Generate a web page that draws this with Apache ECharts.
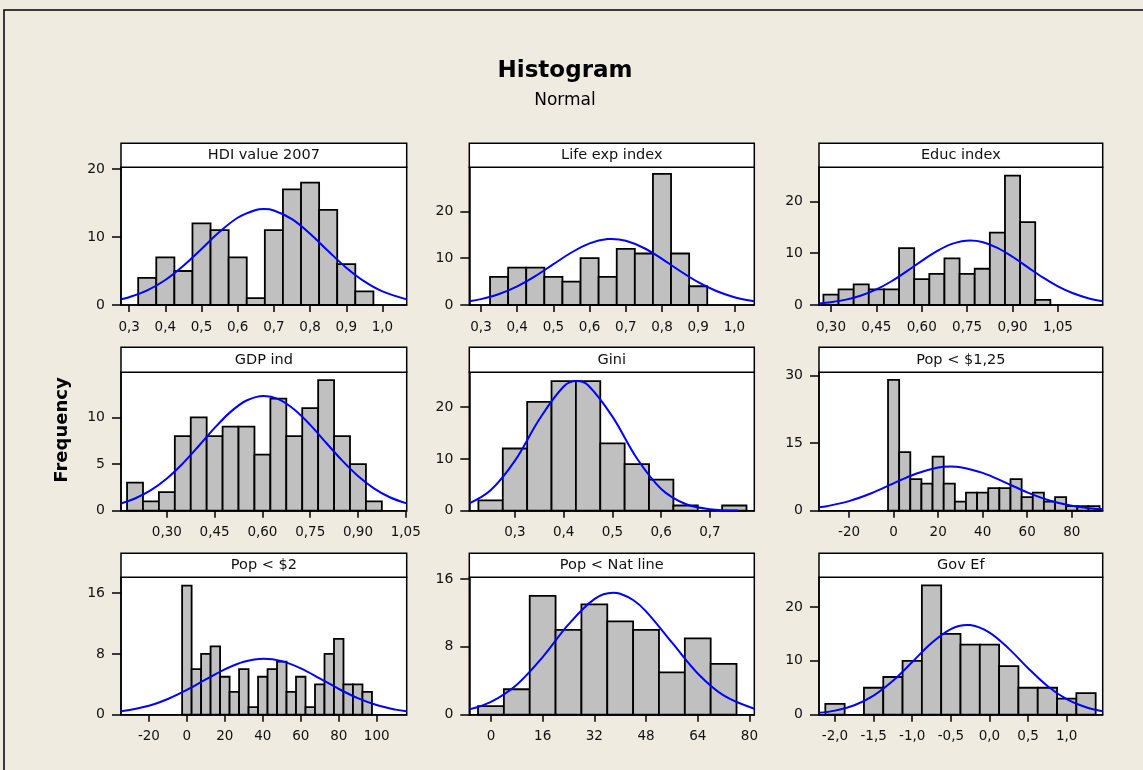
<!DOCTYPE html>
<html>
<head>
<meta charset="utf-8">
<script src="https://cdn.jsdelivr.net/npm/echarts@6/dist/echarts.min.js"></script>
<style>
html,body{margin:0;padding:0;background:#EFEBE1;}
#chart{width:1143px;height:770px;}
</style>
</head>
<body>
<div id="chart"></div>
<script>
// ---------- DATA ----------
const panelTitles = ["HDI value 2007", "Life exp index", "Educ index", "GDP ind", "Gini", "Pop < $1,25", "Pop < $2", "Pop < Nat line", "Gov Ef"];

// HDI value 2007
const hdiMid   = [0.35,0.40,0.45,0.50,0.55,0.60,0.65,0.70,0.75,0.80,0.85,0.90,0.95];
const hdiCount = [4,7,5,12,11,7,1,11,17,18,14,6,2];
const hdiCurveX = [0.2775,0.30,0.35,0.40,0.45,0.50,0.55,0.60,0.65,0.672,0.70,0.75,0.80,0.85,0.90,0.95,1.00,1.067];
const hdiCurveY = [0.84,1.15,2.15,3.68,5.77,8.24,10.76,12.83,13.98,14.1,13.9,12.62,10.48,7.93,5.49,3.47,2.00,0.83];
const hdiXTicks = [0.3,0.4,0.5,0.6,0.7,0.8,0.9,1.0];
const hdiYTicks = [0,10,20];

// Life exp index
const lifeMid   = [0.35,0.40,0.45,0.50,0.55,0.60,0.65,0.70,0.75,0.80,0.85,0.90];
const lifeCount = [6,8,8,6,5,10,6,12,11,28,11,4];
const lifeCurveX = [0.2677,0.30,0.35,0.40,0.45,0.50,0.55,0.60,0.65,0.661,0.70,0.75,0.80,0.85,0.90,0.95,1.00,1.055];
const lifeCurveY = [0.80,1.25,2.34,3.98,6.16,8.71,11.21,13.16,14.07,14.1,13.71,12.17,9.85,7.26,4.87,2.98,1.67,0.79];
const lifeXTicks = [0.3,0.4,0.5,0.6,0.7,0.8,0.9,1.0];
const lifeYTicks = [0,10,20];

// Educ index
const educMid   = [0.30,0.35,0.40,0.45,0.50,0.55,0.60,0.65,0.70,0.75,0.80,0.85,0.90,0.95,1.00];
const educCount = [2,3,4,3,3,11,5,6,9,6,7,14,25,16,1];
const educCurveX = [0.2604,0.30,0.35,0.40,0.45,0.50,0.55,0.60,0.65,0.70,0.76,0.80,0.85,0.90,0.95,1.00,1.05,1.10,1.15,1.198];
const educCurveY = [0.31,0.55,1.04,1.84,3.01,4.59,6.49,8.53,10.41,11.81,12.45,12.16,11.05,9.32,7.31,5.32,3.60,2.26,1.32,0.73];
const educXTicks = [0.30,0.45,0.60,0.75,0.90,1.05];
const educYTicks = [0,10,20];

// GDP ind
const gdpMid   = [0.20,0.25,0.30,0.35,0.40,0.45,0.50,0.55,0.60,0.65,0.70,0.75,0.80,0.85,0.90,0.95];
const gdpCount = [3,1,2,8,10,8,9,9,6,12,8,11,14,8,5,1];
const gdpCurveX = [0.156,0.20,0.25,0.30,0.35,0.40,0.45,0.50,0.55,0.6045,0.65,0.70,0.75,0.80,0.85,0.90,0.95,1.00,1.053];
const gdpCurveY = [0.78,1.31,2.20,3.45,5.06,6.93,8.87,10.59,11.81,12.3,11.96,10.85,9.20,7.28,5.39,3.72,2.40,1.44,0.78];
const gdpXTicks = [0.30,0.45,0.60,0.75,0.90,1.05];
const gdpYTicks = [0,5,10];

// Gini
const giniMid   = [0.25,0.30,0.35,0.40,0.45,0.50,0.55,0.60,0.65,0.70,0.75];
const giniCount = [2,12,21,25,25,13,9,6,1,0,1];
const giniCurveX = [0.2063,0.25,0.30,0.35,0.40,0.4266,0.45,0.50,0.55,0.60,0.65,0.70,0.757];
const giniCurveY = [1.40,3.93,9.66,17.65,23.97,25.0,24.2,18.15,10.12,4.20,1.29,0.30,0.04];
const giniXTicks = [0.3,0.4,0.5,0.6,0.7];
const giniYTicks = [0,10,20];

// Pop < $1,25
const p125Mid   = [0,5,10,15,20,25,30,35,40,45,50,55,60,65,70,75,80,85,90];
const p125Count = [29,13,7,6,12,6,2,4,4,5,5,7,3,4,2,3,1,1,1];
const p125CurveX = [-33.5,-30,-20,-10,0,10,20,25.5,30,40,50,60,70,80,90,93.9];
const p125CurveY = [0.75,1.00,2.12,3.86,6.06,8.20,9.58,9.8,9.65,8.39,6.29,4.07,2.27,1.09,0.45,0.31];
const p125XTicks = [-20,0,20,40,60,80];
const p125YTicks = [0,15,30];

// Pop < $2
const p2Mid   = [0,5,10,15,20,25,30,35,40,45,50,55,60,65,70,75,80,85,90,95];
const p2Count = [17,6,8,9,5,3,6,1,5,6,7,3,5,1,4,8,10,4,4,3];
const p2CurveX = [-34.7,-20,-10,0,10,20,30,40.55,50,60,70,80,90,100,110,115.8];
const p2CurveY = [0.44,1.19,2.07,3.26,4.64,5.98,6.98,7.38,7.06,6.11,4.79,3.40,2.18,1.27,0.67,0.44];
const p2XTicks = [-20,0,20,40,60,80,100];
const p2YTicks = [0,8,16];

// Pop < Nat line
const natMid   = [0,8,16,24,32,40,48,56,64,72];
const natCount = [1,3,14,10,13,11,10,5,9,6];
const natCurveX = [-6.7,0,8,16,24,32,37.8,40,44,48,56,64,72,81.5];
const natCurveY = [0.63,1.51,3.54,6.79,10.64,13.63,14.37,14.26,13.52,12.19,8.52,4.86,2.27,0.70];
const natXTicks = [0,16,32,48,64,80];
const natYTicks = [0,8,16];

// Gov Ef
const govMid   = [-2.0,-1.75,-1.5,-1.25,-1.0,-0.75,-0.5,-0.25,0.0,0.25,0.5,0.75,1.0,1.25];
const govCount = [2,0,5,7,10,24,15,13,13,9,5,5,3,4];
const govCurveX = [-2.207,-2.0,-1.75,-1.5,-1.25,-1.0,-0.75,-0.5,-0.289,-0.25,0.0,0.25,0.5,0.75,1.0,1.25,1.466];
const govCurveY = [0.34,0.76,1.75,3.54,6.28,9.77,13.31,15.90,16.66,16.63,15.25,12.26,8.63,5.33,2.88,1.37,0.64];
const govXTicks = [-2.0,-1.5,-1.0,-0.5,0.0,0.5,1.0];
const govYTicks = [0,10,20];

const binWidths = [0.05,0.05,0.05,0.05,0.05,5,5,8,0.25];
const labelDecimals = [1,1,2,2,1,0,0,0,1];

const mids   = [hdiMid, lifeMid, educMid, gdpMid, giniMid, p125Mid, p2Mid, natMid, govMid];
const counts = [hdiCount, lifeCount, educCount, gdpCount, giniCount, p125Count, p2Count, natCount, govCount];
const curveXs = [hdiCurveX, lifeCurveX, educCurveX, gdpCurveX, giniCurveX, p125CurveX, p2CurveX, natCurveX, govCurveX];
const curveYs = [hdiCurveY, lifeCurveY, educCurveY, gdpCurveY, giniCurveY, p125CurveY, p2CurveY, natCurveY, govCurveY];
const xTicks = [hdiXTicks, lifeXTicks, educXTicks, gdpXTicks, giniXTicks, p125XTicks, p2XTicks, natXTicks, govXTicks];
const yTicks = [hdiYTicks, lifeYTicks, educYTicks, gdpYTicks, giniYTicks, p125YTicks, p2YTicks, natYTicks, govYTicks];

// ---------- LAYOUT (axis ranges and panel positions) ----------
const xMins = [0.2775,0.2677,0.2604,0.156,0.2063,-33.5,-34.7,-6.7,-2.207];
const xMaxs = [1.067,1.055,1.198,1.053,0.791,93.9,115.8,81.5,1.466];
const yMaxs = [20.25,29.4,26.6,14.83,26.7,30.7,18.1,16.2,25.5];

const colLeft  = [121, 469.3, 819];
const colRight = [406.7, 754.3, 1102.7];
const rowStripTop = [143.3, 347.3, 553.3];
const rowTop      = [167.3, 372.3, 577.3];
const rowBottom   = [305, 510.7, 714.7];

const FONT = 'DejaVu Sans';

const grids = [], xAxes = [], yAxes = [], series = [], graphics = [];

for (let i = 0; i < 9; i++) {
  const r = Math.floor(i / 3), c = i % 3;
  const L = colLeft[c], R = colRight[c], T = rowTop[r], B = rowBottom[r];
  grids.push({left: L, top: T, width: R - L, height: B - T, show: true,
    backgroundColor: '#FFFFFF', borderColor: '#000', borderWidth: 1.5, containLabel: false});
  const dec = labelDecimals[i];
  xAxes.push({
    gridIndex: i, type: 'value', min: xMins[i], max: xMaxs[i],
    axisLine: {show: true, onZero: false, lineStyle: {color: '#000', width: 1.5}},
    axisTick: {show: true, inside: false, length: 7, customValues: xTicks[i], lineStyle: {color: '#000', width: 1.5}},
    axisLabel: {customValues: xTicks[i], margin: 15, color: '#111', fontSize: 13.5, fontFamily: FONT,
      formatter: v => Number(v).toFixed(dec).replace('.', ',')},
    splitLine: {show: false}
  });
  yAxes.push({
    gridIndex: i, type: 'value', min: 0, max: yMaxs[i],
    axisLine: {show: true, onZero: false, lineStyle: {color: '#000', width: 1.5}},
    axisTick: {show: true, inside: false, length: 9, customValues: yTicks[i], lineStyle: {color: '#000', width: 1.5}},
    axisLabel: {customValues: yTicks[i], margin: 16, color: '#111', fontSize: 14, fontFamily: FONT},
    splitLine: {show: false}
  });
  const w = binWidths[i];
  const barData = mids[i].map((m, k) => [m, counts[i][k], w]);
  series.push({
    type: 'custom', xAxisIndex: i, yAxisIndex: i, data: barData, z: 2,
    renderItem: function (params, api) {
      const m = api.value(0), n = api.value(1), bw = api.value(2);
      if (!n) return null;
      const p0 = api.coord([m - bw / 2, n]);
      const p1 = api.coord([m + bw / 2, 0]);
      return {type: 'rect',
        shape: {x: p0[0], y: p0[1], width: p1[0] - p0[0], height: p1[1] - p0[1]},
        style: {fill: '#C0C0C0', stroke: '#000', lineWidth: 1.8}};
    }
  });
  series.push({
    type: 'line', xAxisIndex: i, yAxisIndex: i, z: 3,
    data: curveXs[i].map((x, k) => [x, curveYs[i][k]]),
    smooth: 0.35, showSymbol: false, symbol: 'none',
    lineStyle: {color: '#0000FF', width: 2}, silent: true
  });
  // strip (panel header)
  graphics.push({type: 'rect', shape: {x: L, y: rowStripTop[r], width: R - L, height: T - rowStripTop[r]},
    style: {fill: '#FFFFFF', stroke: '#000', lineWidth: 1.5}, z: 10});
  graphics.push({type: 'text', x: (L + R) / 2, y: (rowStripTop[r] + T) / 2,
    style: {text: panelTitles[i], font: '14.5px "DejaVu Sans"', fill: '#111', align: 'center', verticalAlign: 'middle'}, z: 11});
}

// outer frame and titles
graphics.push({type: 'rect', shape: {x: 4, y: 10, width: 1160, height: 780},
  style: {fill: 'none', stroke: '#000', lineWidth: 1.5}, z: 0});
graphics.push({type: 'text', x: 565, y: 71,
  style: {text: 'Histogram', font: 'bold 23px "DejaVu Sans"', fill: '#000', align: 'center', verticalAlign: 'middle'}, z: 11});
graphics.push({type: 'text', x: 565, y: 101,
  style: {text: 'Normal', font: '17px "DejaVu Sans"', fill: '#000', align: 'center', verticalAlign: 'middle'}, z: 11});
graphics.push({type: 'text', x: 62, y: 430, rotation: Math.PI / 2,
  style: {text: 'Frequency', font: 'bold 18px "DejaVu Sans"', fill: '#000', align: 'center', verticalAlign: 'middle'}, z: 11});

const chart = echarts.init(document.getElementById('chart'), null, {renderer: 'canvas'});
chart.setOption({
  backgroundColor: '#EFEBE1',
  animation: false,
  grid: grids,
  xAxis: xAxes,
  yAxis: yAxes,
  series: series,
  graphic: graphics
});
</script>
</body>
</html>
